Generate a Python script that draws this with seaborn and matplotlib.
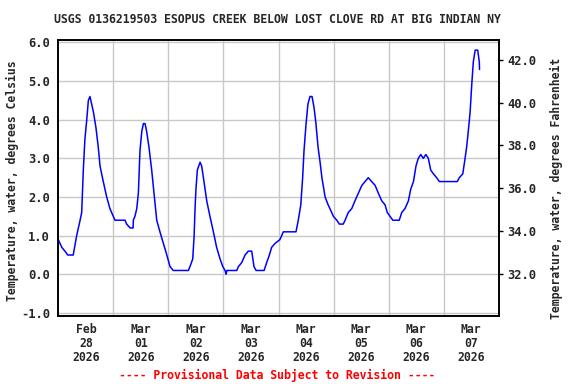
import numpy as np
import pandas as pd
import matplotlib
matplotlib.use("Agg")
import matplotlib.pyplot as plt
import matplotlib.dates as mdates
import seaborn as sns

# water temperature (hours after 2026-02-27 12:00, deg C)
hours = [0.0, 1.5, 2.9, 4.1, 6.5, 8.0, 9.5, 10.2, 10.6, 10.9, 11.6, 12.4, 13.1, 13.8,
         15.3, 16.4, 17.4, 18.2, 19.6, 21.1, 22.5, 24.0, 24.7, 29.1, 29.8, 31.3, 32.6,
         32.7, 33.4, 34.2, 34.9, 35.3, 35.6, 36.4, 37.1, 37.8, 38.5, 39.5, 40.7, 41.7,
         42.9, 44.3, 45.8, 47.3, 48.7, 50.1, 56.7, 57.4, 58.6, 59.2, 59.6, 60.0, 60.6,
         61.8, 62.5, 63.5, 64.7, 66.1, 67.6, 69.0, 70.5, 71.7, 72.7, 73.1, 73.5, 77.8,
         78.5, 79.9, 81.4, 82.8, 84.3, 85.3, 86.2, 89.7, 90.8, 92.0, 93.0, 94.5, 96.6,
         98.1, 103.6, 104.6, 105.7, 106.5, 107.1, 108.0, 108.8, 109.7, 110.6, 111.5,
         112.3, 113.2, 114.1, 114.9, 116.3, 117.6, 118.4, 119.9, 121.4, 122.5, 124.2,
         125.0, 126.4, 127.9, 129.3, 130.8, 132.3, 133.7, 135.1, 136.6, 138.1, 139.5,
         141.0, 142.4, 143.4, 144.6, 145.8, 148.6, 149.7, 151.1, 152.6, 153.6, 154.8,
         155.9, 156.9, 158.0, 159.1, 160.2, 161.3, 162.3, 163.5, 164.9, 166.1, 173.9,
         174.8, 176.3, 177.3, 178.0, 178.7, 179.5, 180.2, 180.9, 181.7, 182.8, 183.5,
         183.6]
temp_c = [0.9, 0.7, 0.6, 0.5, 0.5, 1.0, 1.4, 1.6, 2.2, 2.7, 3.5, 4.0, 4.5, 4.6,
          4.2, 3.8, 3.3, 2.8, 2.4, 2.0, 1.7, 1.5, 1.4, 1.4, 1.3, 1.2, 1.2,
          1.4, 1.5, 1.7, 2.1, 2.7, 3.2, 3.7, 3.9, 3.9, 3.7, 3.3, 2.7, 2.1,
          1.4, 1.1, 0.8, 0.5, 0.2, 0.1, 0.1, 0.2, 0.4, 1.0, 1.7, 2.2, 2.7,
          2.9, 2.8, 2.4, 1.9, 1.5, 1.1, 0.7, 0.4, 0.2, 0.1, 0.0, 0.1, 0.1,
          0.2, 0.3, 0.5, 0.6, 0.6, 0.2, 0.1, 0.1, 0.3, 0.5, 0.7, 0.8, 0.9,
          1.1, 1.1, 1.4, 1.8, 2.5, 3.2, 3.9, 4.4, 4.6, 4.6, 4.3,
          3.9, 3.3, 2.9, 2.5, 2.0, 1.8, 1.7, 1.5, 1.4, 1.3, 1.3,
          1.4, 1.6, 1.7, 1.9, 2.1, 2.3, 2.4, 2.5, 2.4, 2.3, 2.1,
          1.9, 1.8, 1.6, 1.5, 1.4, 1.4, 1.6, 1.7, 1.9, 2.2, 2.4,
          2.8, 3.0, 3.1, 3.0, 3.1, 3.0, 2.7, 2.6, 2.5, 2.4, 2.4,
          2.5, 2.6, 3.0, 3.3, 3.7, 4.2, 4.9, 5.5, 5.8, 5.8, 5.5,
          5.3]
day_labels = ["Feb\n28\n2026", "Mar\n01\n2026", "Mar\n02\n2026", "Mar\n03\n2026",
              "Mar\n04\n2026", "Mar\n05\n2026", "Mar\n06\n2026", "Mar\n07\n2026"]
c_ticks = [-1.0, 0.0, 1.0, 2.0, 3.0, 4.0, 5.0, 6.0]
f_ticks = [32.0, 34.0, 36.0, 38.0, 40.0, 42.0]

start = pd.Timestamp("2026-02-27 12:00")
df = pd.DataFrame({"time": start + pd.to_timedelta(hours, unit="h"), "temp": temp_c})

sns.set_style("white")
plt.rcParams["font.family"] = ["DejaVu Sans Mono"]
plt.rcParams["font.weight"] = "bold"
fs = 8.3

fig = plt.figure(figsize=(5.76, 3.84), dpi=100)
ax = fig.add_axes([58.3 / 576, 1 - 315.7 / 384, 440.5 / 576, 276 / 384])

sns.lineplot(data=df, x="time", y="temp", ax=ax, color="#0000ff", lw=1.1,
             estimator=None, sort=False)

ylo, yhi = -1.07, 6.07
ax.set_ylim(ylo, yhi)
ax.set_xlim(start, start + pd.Timedelta(days=8))

midnights = [start + pd.Timedelta(hours=12 + 24 * i) for i in range(8)]
noons = [start + pd.Timedelta(days=i) for i in range(1, 8)]
ax.set_xticks(midnights)
ax.set_xticklabels(day_labels, fontsize=fs, fontweight="bold", linespacing=1.1)
ax.set_xticks(noons, minor=True)
ax.tick_params(axis="x", which="major", length=0, pad=5)
ax.tick_params(axis="x", which="minor", length=0)
ax.grid(False)
ax.grid(True, axis="x", which="minor", color="#c8c8c8", lw=1)
ax.set_yticks(c_ticks)
ax.set_yticklabels([f"{t:.1f}" for t in c_ticks], fontsize=fs + 0.4, fontweight="bold")
ax.grid(True, axis="y", which="major", color="#c8c8c8", lw=1)
ax.tick_params(axis="y", length=0, pad=6)
ax.set_xlabel("")
ax.set_ylabel("")

ax2 = ax.twinx()
ax2.set_ylim(ylo * 1.8 + 32, yhi * 1.8 + 32)
ax2.set_yticks(f_ticks)
ax2.set_yticklabels([f"{t:.1f}" for t in f_ticks], fontsize=fs + 0.4, fontweight="bold")
ax2.tick_params(axis="y", length=3, width=1, pad=3, color="black")
ax2.grid(False)

for a in (ax, ax2):
    for s in a.spines.values():
        s.set_color("black")
        s.set_linewidth(1.2)

fig.text(277.5 / 576, 1 - 19.5 / 384,
         "USGS 0136219503 ESOPUS CREEK BELOW LOST CLOVE RD AT BIG INDIAN NY",
         ha="center", va="center", fontsize=fs, fontweight="bold")
fig.text(12 / 576, 1 - 181 / 384, "Temperature, water, degrees Celsius",
         rotation=90, ha="center", va="center", fontsize=fs, fontweight="bold")
fig.text(556 / 576, 1 - 188 / 384, "Temperature, water, degrees Fahrenheit",
         rotation=90, ha="center", va="center", fontsize=fs, fontweight="bold")
fig.text(277.5 / 576, 1 - 375 / 384, "---- Provisional Data Subject to Revision ----",
         ha="center", va="center", fontsize=fs, fontweight="bold", color="#ff0000")

fig.savefig("out.png", dpi=100, facecolor="white")
